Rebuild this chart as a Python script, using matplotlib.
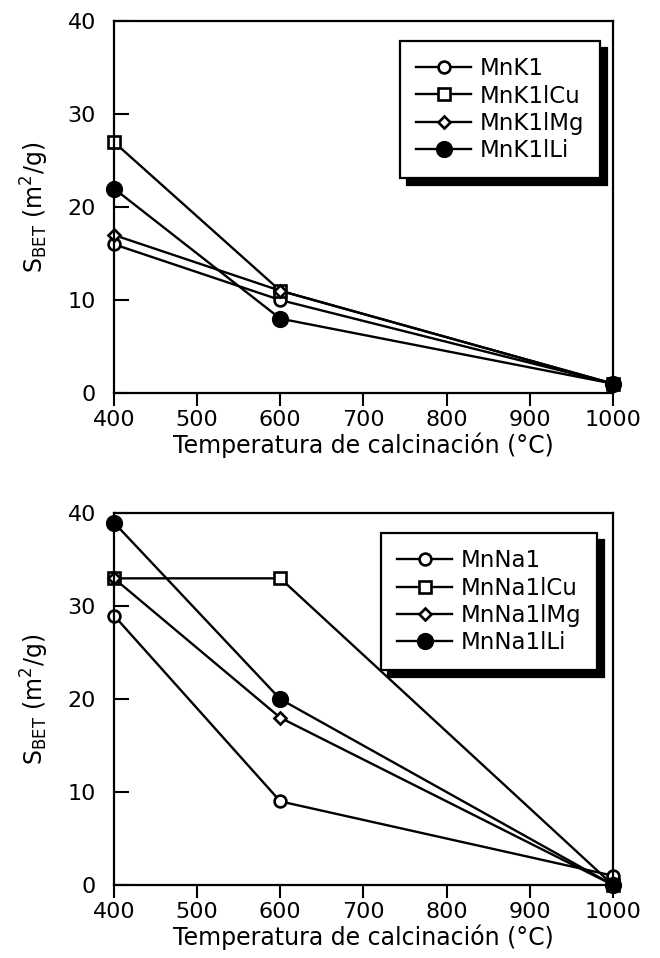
import matplotlib.pyplot as plt

# temperaturas de calcinación
temps = [400, 600, 1000]

# panel superior (serie K)
k_labels = ["MnK1", "MnK1lCu", "MnK1lMg", "MnK1lLi"]
mnk1 = [16, 10, 1]
mnk1_cu = [27, 11, 1]
mnk1_mg = [17, 11, 1]
mnk1_li = [22, 8, 1]

# panel inferior (serie Na)
na_labels = ["MnNa1", "MnNa1lCu", "MnNa1lMg", "MnNa1lLi"]
mnna1 = [29, 9, 1]
mnna1_cu = [33, 33, 0]
mnna1_mg = [33, 18, 0]
mnna1_li = [39, 20, 0]

xticks = [400, 500, 600, 700, 800, 900, 1000]
yticks = [0, 10, 20, 30, 40]

plt.rcParams['font.family'] = ['DejaVu Sans']
plt.rcParams['font.size'] = 16

styles = [
    dict(marker='o', mfc='white', ms=8.5),
    dict(marker='s', mfc='white', ms=8),
    dict(marker='D', mfc='white', ms=6),
    dict(marker='o', mfc='black', ms=10.5),
]


def panel(ax, series, labels, anchor):
    for y, lab, st in zip(series, labels, styles):
        ax.plot(temps, y, color='black', lw=1.7, mec='black', mew=1.9,
                label=lab, clip_on=False, **st)
    ax.set_xlim(400, 1000)
    ax.set_ylim(0, 40)
    ax.set_xticks(xticks)
    ax.set_yticks(yticks)
    ax.tick_params(axis='y', direction='in', length=11, width=1.5, pad=13)
    ax.tick_params(axis='x', direction='out', length=9, width=1.5, pad=3)
    for s in ax.spines.values():
        s.set_linewidth(1.6)
    ax.set_xlabel("Temperatura de calcinación (°C)", fontsize=17, labelpad=2)
    ax.set_ylabel(r"S$_{\rm BET}$ (m$^2$/g)", fontsize=17, labelpad=12)
    leg = ax.legend(loc='upper right', bbox_to_anchor=anchor, fontsize=16.5,
                    fancybox=False, edgecolor='black', framealpha=1,
                    shadow={'color': 'black', 'alpha': 1, 'ox': 5, 'oy': -5},
                    handlelength=2.4, handletextpad=0.35, labelspacing=0.18,
                    borderpad=0.7, borderaxespad=0)
    leg.get_frame().set_linewidth(1.6)


fig = plt.figure(figsize=(6.6, 9.58), dpi=100)
ax1 = fig.add_axes([0.1727, 0.5898, 0.756, 0.388])
ax2 = fig.add_axes([0.1727, 0.0762, 0.756, 0.388])

panel(ax1, [mnk1, mnk1_cu, mnk1_mg, mnk1_li], k_labels, (0.974, 0.946))
panel(ax2, [mnna1, mnna1_cu, mnna1_mg, mnna1_li], na_labels, (0.968, 0.946))

fig.savefig("out.png", dpi=100)
